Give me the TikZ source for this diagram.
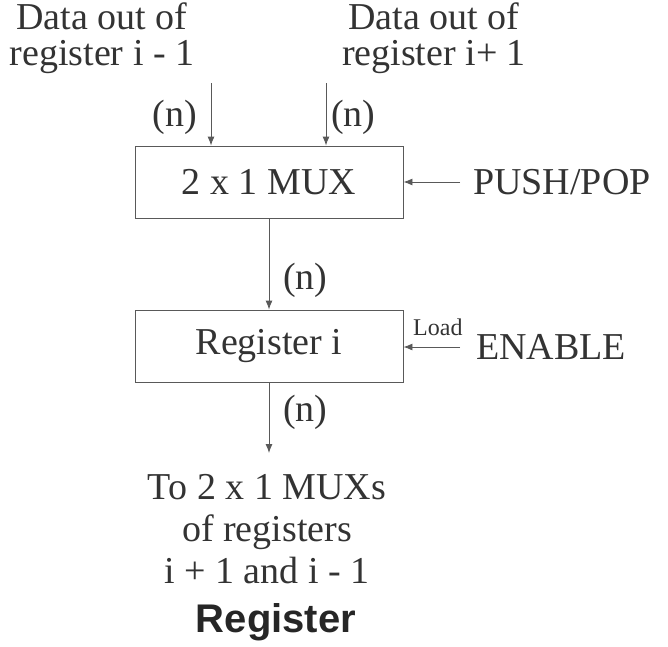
\documentclass[tikz,border=0pt]{standalone}
\usepackage{fontspec}
\setmainfont{Liberation Serif}
\newfontfamily\titlefont{Liberation Sans}
\usetikzlibrary{arrows.meta}
\tikzset{
  blk/.style={draw=black!65, line width=0.9pt, minimum width=268pt, minimum height=72pt,
    font=\fontsize{38}{36}\selectfont},
  sig/.style={draw=black!65, line width=0.9pt, -{Latex[length=9pt,width=7pt]}},
  lbl/.style={font=\fontsize{38}{36}\selectfont, inner sep=0pt},
}
\begin{document}
\begin{tikzpicture}[x=1pt,y=-1pt,text=black!80]
  \useasboundingbox (0,0) rectangle (668,646);
  % blocks
  \node[blk] (mux) at (269,182) {2 x 1 MUX};
  \node[blk] (reg) at (269,346) {Register i};
  % data from the neighbour registers
  \node[lbl, align=center, anchor=north] (srcL) at (102,3) {Data out of\\register i - 1};
  \node[lbl, align=center, anchor=north] (srcR) at (434,3) {Data out of\\register i+ 1};
  \coordinate (inL) at (211,83);
  \coordinate (inR) at (326,83);
  \draw[sig] (inL) -- (inL |- mux.north);
  \draw[sig] (inR) -- (inR |- mux.north);
  \node[lbl, anchor=east] (nL) at (197,117) {(n)};
  \node[lbl, anchor=west] (nR) at (331,117) {(n)};
  % select line
  \node[lbl, anchor=west, inner xsep=13pt] (push) at (460,182) {PUSH/POP};
  \draw[sig] (push.west) -- (mux.east);
  % mux to register
  \draw[sig] (mux) -- (reg);
  \node[lbl, anchor=west] (nM) at (283,280) {(n)};
  % load line
  \node[lbl, anchor=west, inner xsep=16pt] (enable) at (460,347) {ENABLE};
  \draw[sig] (enable.west) -- (reg.east |- enable.west);
  \node[font=\fontsize{24}{24}\selectfont, anchor=south west, inner sep=0pt] (load) at (413,336) {Load};
  % output
  \node[lbl, align=center, anchor=north, font=\fontsize{38}{42}\selectfont] (dest) at (267,474)
    {To 2 x 1 MUXs\\of registers\\i + 1 and i - 1};
  \draw[sig, shorten >=21pt] (reg.south) -- (reg.south |- dest.north);
  \node[lbl, anchor=west] (nB) at (283,412) {(n)};
  \node[font=\titlefont\bfseries\fontsize{40}{40}\selectfont, text=black!85, anchor=base] (title) at (276,632) {Register};
\end{tikzpicture}
\end{document}
